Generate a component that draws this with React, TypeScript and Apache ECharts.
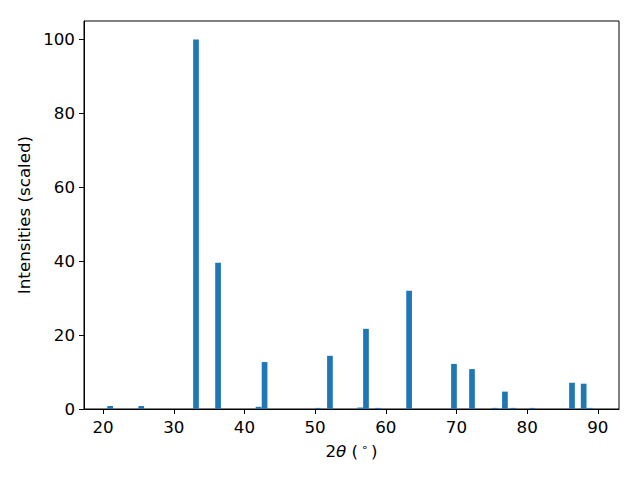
import React, { useEffect, useRef } from "react";
import * as echarts from "echarts";

const twoTheta = [21.0, 25.4, 33.15, 36.27, 42.0, 42.85, 50.4, 52.1, 56.4, 57.2, 58.9, 63.3, 69.65, 72.2, 75.45, 76.86, 78.0, 80.75, 86.35, 88.0, 88.9];
const intensities = [0.8, 0.8, 100, 39.6, 0.6, 12.7, 0.3, 14.4, 0.4, 21.7, 0.3, 32.0, 12.2, 10.8, 0.3, 4.7, 0.3, 0.3, 7.1, 6.85, 0.3];
const xTicks = [20, 30, 40, 50, 60, 70, 80, 90];
const yTicks = [0, 20, 40, 60, 80, 100];

const FONT = "DejaVu Sans";
const FS = 16.7;

export default function App() {
  const ref = useRef<HTMLDivElement>(null);
  useEffect(() => {
    const chart = echarts.init(ref.current!, null, { renderer: "svg" });
    const data = twoTheta.map((x, i) => [x, intensities[i]]);
    chart.setOption({
      animation: false,
      textStyle: { fontFamily: FONT },
      grid: {
        left: 84,
        right: 21,
        top: 21,
        bottom: 71,
        show: true,
        borderColor: "#000",
        borderWidth: 1,
        backgroundColor: "#fff",
      },
      xAxis: {
        type: "value",
        min: 17.3,
        max: 93,
        splitLine: { show: false },
        axisLine: { show: true, lineStyle: { color: "#000", width: 1 } },
        axisTick: { show: true, length: 5, customValues: xTicks, lineStyle: { color: "#000" } },
        axisLabel: { customValues: xTicks, color: "#000", fontSize: FS, margin: 9, fontFamily: FONT },
        name: "2{it|θ} ({sup|∘})",
        nameLocation: "middle",
        nameGap: 33,
        nameTextStyle: {
          color: "#000",
          fontSize: FS,
          fontFamily: FONT,
          rich: {
            it: { fontStyle: "italic", fontSize: FS, fontFamily: FONT, color: "#000" },
            sup: { fontSize: 11, fontFamily: FONT, color: "#000", padding: [0, 3, 7, 3] },
          },
        },
      },
      yAxis: {
        type: "value",
        min: 0,
        max: 105,
        splitLine: { show: false },
        axisLine: { show: true, lineStyle: { color: "#000", width: 1 } },
        axisTick: { show: true, length: 5, customValues: yTicks, lineStyle: { color: "#000" } },
        axisLabel: { customValues: yTicks, color: "#000", fontSize: FS, margin: 9, fontFamily: FONT },
        name: "Intensities (scaled)",
        nameLocation: "middle",
        nameGap: 50,
        nameTextStyle: { color: "#000", fontSize: FS, fontFamily: FONT },
      },
      series: [
        {
          type: "bar",
          data,
          barWidth: 5.7,
          itemStyle: { color: "#1f77b4" },
        },
      ],
    });
    return () => chart.dispose();
  }, []);
  return <div ref={ref} style={{ width: 640, height: 480, position: "absolute", left: 0, top: 0 }} />;
}
